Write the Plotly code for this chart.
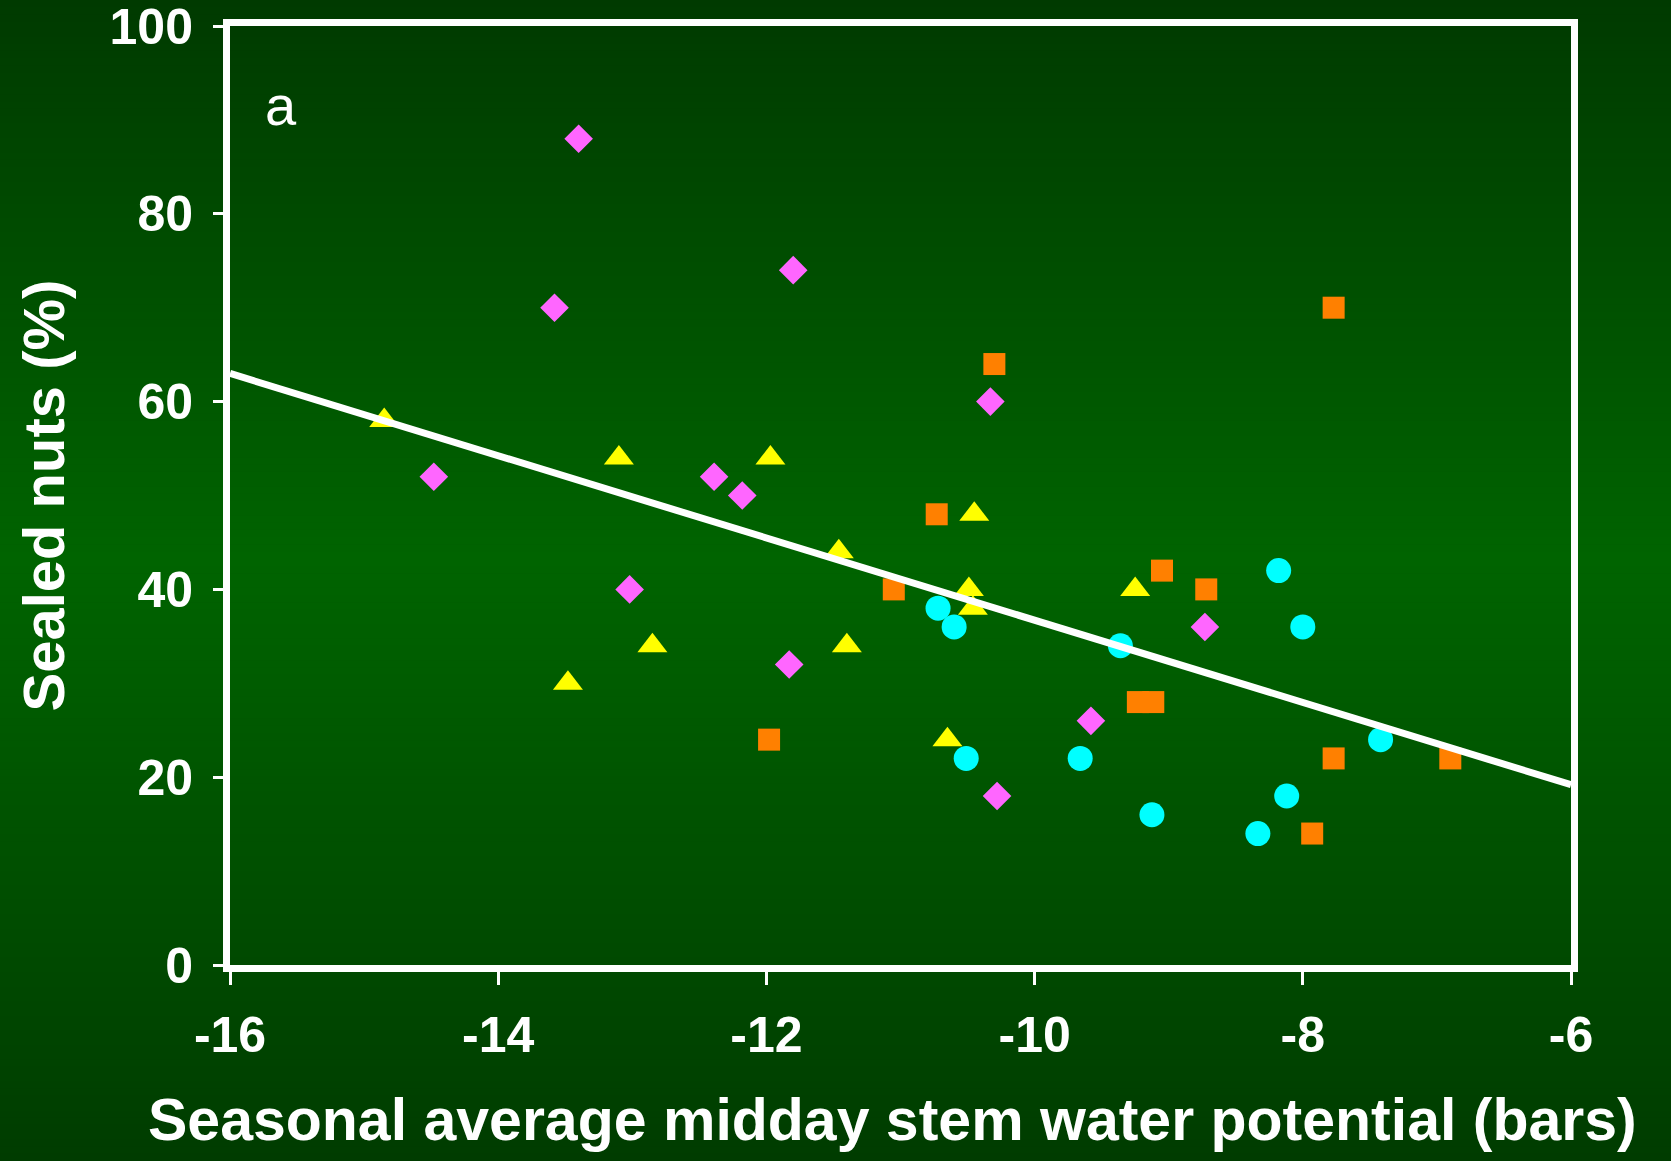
import plotly.graph_objects as go

# Canvas and plot-area geometry (pixels)
W, H = 1671, 1161
ML, MR, MT, MB = 230, 100, 26, 196

# Seasonal average midday stem water potential (bars) vs. sealed nuts (%)
diamond_x = [-13.40, -13.58, -14.48, -11.80, -10.33, -12.39, -12.18, -13.02, -11.83, -8.73, -9.58, -10.28]
diamond_y = [88, 70, 52, 74, 60, 52, 50, 40, 32, 36, 26, 18]

triangle_x = [-14.85, -13.10, -11.97, -13.48, -12.85, -11.46, -11.40, -10.45, -10.49, -10.46, -10.65, -9.25]
triangle_y = [58, 54, 54, 30, 34, 44, 34, 48, 40, 38, 24, 40]

square_x = [-10.30, -10.73, -11.05, -11.98, -7.77, -9.05, -8.72, -9.23, -9.115, -7.77, -7.93, -6.90]
square_y = [64, 48, 40, 24, 70, 42, 40, 28, 28, 22, 14, 22]

circle_x = [-10.72, -10.60, -10.51, -9.36, -9.66, -9.125, -8.18, -8.00, -8.12, -8.335, -7.42]
circle_y = [38, 36, 22, 34, 22, 16, 42, 36, 18, 14, 24]

# Linear regression line across the full x range
fit_x = [-16, -6]
fit_y = [63.0, 19.2]

x_ticks = [-16, -14, -12, -10, -8, -6]
x_tick_text = ["-16", "-14", "-12", "-10", "-8", "-6"]
y_ticks = [0, 20, 40, 60, 80, 100]
y_tick_text = ["0", "20", "40", "60", "80", "100"]

FONT = "Liberation Sans, Arial, sans-serif"

fig = go.Figure()

fig.add_trace(go.Scatter(x=diamond_x, y=diamond_y, mode="markers",
                         marker=dict(symbol="diamond", size=22, color="#FF66FF", line=dict(width=0))))
fig.add_trace(go.Scatter(x=triangle_x, y=triangle_y, mode="markers",
                         marker=dict(symbol="triangle-up", size=26, color="#FFFF00", line=dict(width=0))))
fig.add_trace(go.Scatter(x=square_x, y=square_y, mode="markers",
                         marker=dict(symbol="square", size=22, color="#FF8000", line=dict(width=0))))
fig.add_trace(go.Scatter(x=circle_x, y=circle_y, mode="markers",
                         marker=dict(symbol="circle", size=25, color="#00FFFF", line=dict(width=0))))
fig.add_trace(go.Scatter(x=fit_x, y=fit_y, mode="lines",
                         line=dict(color="white", width=7)))

# Vertical background gradient: dark at top and bottom, brighter green in the middle
def lerp(c0, c1, t):
    return tuple(round(a + (b - a) * t) for a, b in zip(c0, c1))

top_c, mid_c, bot_c = (0, 58, 0), (0, 100, 0), (0, 60, 0)
mid_px = 560
n_strips = 160
plot_h = H - MT - MB
plot_w = W - ML - MR
shapes = []
for i in range(n_strips):
    p0 = H * i / n_strips
    p1 = H * (i + 1) / n_strips
    pc = (p0 + p1) / 2
    if pc <= mid_px:
        col = lerp(top_c, mid_c, pc / mid_px)
    else:
        col = lerp(mid_c, bot_c, (pc - mid_px) / (H - mid_px))
    shapes.append(dict(
        type="rect", xref="paper", yref="paper", layer="below",
        x0=-ML / plot_w - 0.01, x1=1 + MR / plot_w + 0.01,
        y0=1 - (p1 + 0.6 - MT) / plot_h, y1=1 - (p0 - MT) / plot_h,
        fillcolor="rgb(%d,%d,%d)" % col, line=dict(width=0)))

axis_common = dict(
    showgrid=False, zeroline=False, showline=True, linecolor="white", linewidth=7,
    mirror=True, ticks="outside", tickcolor="white", tickwidth=3,
    ticklabeloverflow="allow", automargin=False,
    tickfont=dict(family=FONT, size=50, color="white", weight="bold"),
)

fig.update_layout(
    width=W, height=H,
    margin=dict(l=ML, r=MR, t=MT, b=MB, autoexpand=False),
    paper_bgcolor="rgb(0,80,0)",
    plot_bgcolor="rgba(0,0,0,0)",
    showlegend=False,
    shapes=shapes,
    xaxis=dict(range=[-16, -6], tickvals=x_ticks, ticktext=x_tick_text,
               ticklen=13, ticklabelstandoff=7, **axis_common),
    yaxis=dict(range=[0, 100], tickvals=y_ticks, ticktext=y_tick_text,
               ticklen=10, ticklabelstandoff=10, **axis_common),
    annotations=[
        dict(text="Seasonal average midday stem water potential (bars)", xref="paper", yref="paper",
             x=(892 - ML) / plot_w, y=-(1120 - (H - MB)) / plot_h, xanchor="center", yanchor="middle",
             showarrow=False, font=dict(family=FONT, size=59, color="white", weight="bold")),
        dict(text="Sealed nuts (%)", xref="paper", yref="paper", textangle=-90,
             x=(43 - ML) / plot_w, y=0.5, xanchor="center", yanchor="middle",
             showarrow=False, font=dict(family=FONT, size=58, color="white", weight="bold")),
        dict(text="a", xref="x", yref="y", x=-15.62, y=91.5, xanchor="center", yanchor="middle",
             showarrow=False, font=dict(family=FONT, size=56, color="white")),
    ],
)

fig.write_html("out.html")
